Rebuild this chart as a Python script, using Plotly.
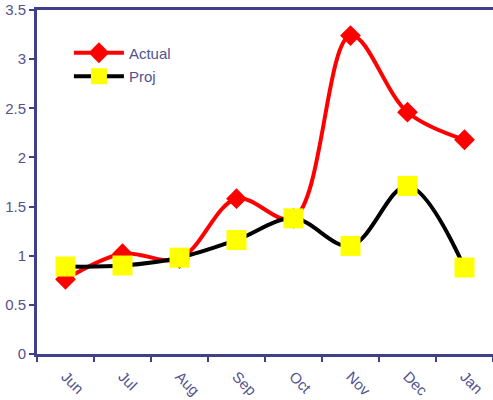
import plotly.graph_objects as go

months = ["Jun", "Jul", "Aug", "Sep", "Oct", "Nov", "Dec", "Jan"]
actual = [0.76, 1.02, 0.97, 1.58, 1.38, 3.24, 2.46, 2.18]
proj = [0.89, 0.90, 0.98, 1.16, 1.38, 1.10, 1.71, 0.88]

axis_color = "#3f3f8a"
text_color = "#52528f"

fig = go.Figure()
fig.add_trace(go.Scatter(
    x=months, y=actual, name="Actual", mode="lines+markers", legendgroup="a",
    line=dict(color="#ff0000", width=4, shape="spline", smoothing=1),
    marker=dict(symbol="diamond", size=16, color="#ff0000"),
))
fig.add_trace(go.Scatter(
    x=months, y=proj, name="Proj", mode="lines+markers", legendgroup="p",
    line=dict(color="#000000", width=4, shape="spline", smoothing=1),
    marker=dict(symbol="square", size=20, color="#ffff00"),
))

fig.update_layout(
    width=493, height=400,
    margin=dict(l=37, r=0, t=10, b=46),
    paper_bgcolor="white", plot_bgcolor="white",
    font=dict(family="Liberation Sans, Arial, sans-serif", color=text_color, size=14),
    showlegend=True,
    legend=dict(
        x=0.07, y=0.923, xanchor="left", yanchor="top",
        bgcolor="rgba(0,0,0,0)", font=dict(size=15, color=text_color),
        itemwidth=50, traceorder="grouped", tracegroupgap=1,
    ),
)
fig.update_xaxes(
    type="category", range=[-0.5, 7.5], automargin=False,
    showline=True, linecolor=axis_color, linewidth=3, mirror=True,
    showgrid=False, ticks="outside", tickson="boundaries",
    ticklen=5, tickcolor=axis_color, tickwidth=2,
    tickangle=45, ticklabelstandoff=5,
    tickfont=dict(size=15, color=text_color),
)
fig.update_yaxes(
    range=[0, 3.5], dtick=0.5, automargin=False,
    showline=True, linecolor=axis_color, linewidth=3,
    showgrid=False, zeroline=False, ticks="outside",
    ticklen=5, tickcolor=axis_color, tickwidth=2,
    tickfont=dict(size=15, color=text_color),
)

fig.write_html("out.html")
